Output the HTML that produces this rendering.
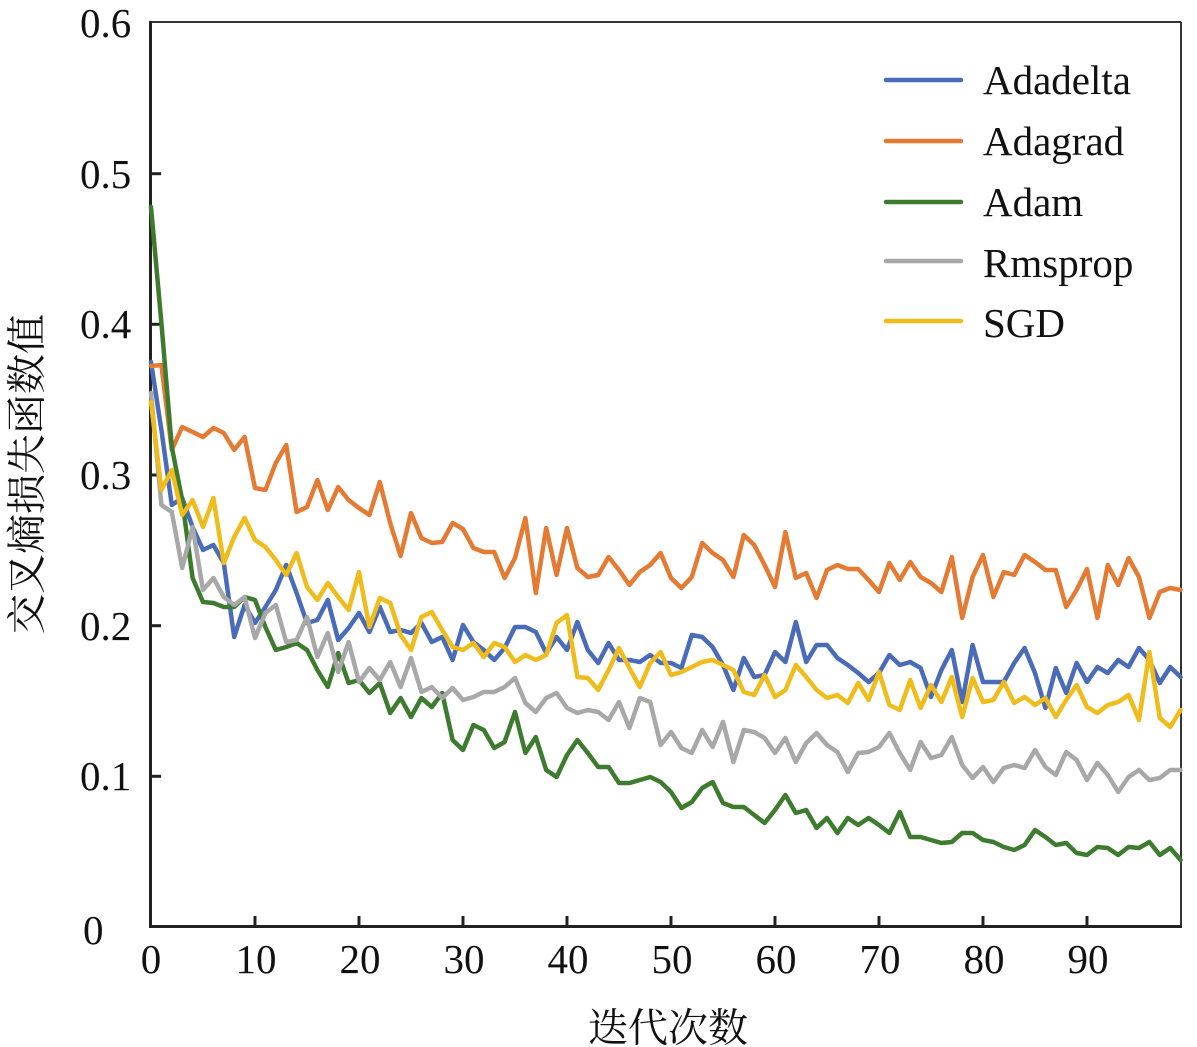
<!DOCTYPE html>
<html><head><meta charset="utf-8"><style>
html,body{margin:0;padding:0;background:#fff;}
svg{display:block;}
</style></head><body>
<svg width="1197" height="1047" viewBox="0 0 1197 1047" xmlns="http://www.w3.org/2000/svg">
<rect width="1197" height="1047" fill="#fff"/>
<!-- frame -->
<line x1="150" y1="22" x2="1181" y2="22" stroke="#333" stroke-width="2"/>
<line x1="1181" y1="22" x2="1181" y2="927" stroke="#333" stroke-width="2"/>
<line x1="150.5" y1="21" x2="150.5" y2="928" stroke="#222" stroke-width="3"/>
<line x1="149" y1="926.5" x2="1182" y2="926.5" stroke="#222" stroke-width="3"/>
<!-- y ticks -->
<g stroke="#222" stroke-width="3">
<line x1="151" y1="776.3" x2="161" y2="776.3"/>
<line x1="151" y1="625.7" x2="161" y2="625.7"/>
<line x1="151" y1="475" x2="161" y2="475"/>
<line x1="151" y1="324.3" x2="161" y2="324.3"/>
<line x1="151" y1="173.7" x2="161" y2="173.7"/>
</g>
<!-- x ticks -->
<g stroke="#222" stroke-width="3">
<line x1="255" y1="916" x2="255" y2="926"/>
<line x1="359" y1="916" x2="359" y2="926"/>
<line x1="463" y1="916" x2="463" y2="926"/>
<line x1="567" y1="916" x2="567" y2="926"/>
<line x1="671" y1="916" x2="671" y2="926"/>
<line x1="775" y1="916" x2="775" y2="926"/>
<line x1="879" y1="916" x2="879" y2="926"/>
<line x1="983" y1="916" x2="983" y2="926"/>
<line x1="1087" y1="916" x2="1087" y2="926"/>
</g>
<!-- y tick labels -->
<g font-family="'Liberation Serif', 'DejaVu Serif', serif" font-size="41" fill="#111">
<text x="80" y="37">0.6</text>
<text x="80" y="188">0.5</text>
<text x="80" y="338">0.4</text>
<text x="80" y="489">0.3</text>
<text x="80" y="640">0.2</text>
<text x="80" y="790">0.1</text>
<text x="83" y="944">0</text>
</g>
<!-- x tick labels -->
<g font-family="'Liberation Serif', 'DejaVu Serif', serif" font-size="41" fill="#111" text-anchor="middle">
<text x="151" y="973">0</text>
<text x="256" y="973">10</text>
<text x="360" y="973">20</text>
<text x="464" y="973">30</text>
<text x="568" y="973">40</text>
<text x="672" y="973">50</text>
<text x="776" y="973">60</text>
<text x="880" y="973">70</text>
<text x="984" y="973">80</text>
<text x="1088" y="973">90</text>
</g>
<!-- axis titles -->
<g font-family="'Noto Serif CJK SC', 'Noto Sans CJK SC', serif" font-size="40" fill="#111">
<text x="668" y="1025" text-anchor="middle" dominant-baseline="central">迭代次数</text>
<text transform="translate(24,474) rotate(-90)" x="0" y="0" text-anchor="middle" dominant-baseline="central">交叉熵损失函数值</text>
</g>
<!-- series -->
<g transform="translate(151,0) scale(10.4,1)" fill="none" stroke-width="4.5" stroke-linejoin="round" stroke-linecap="round">
<polyline vector-effect="non-scaling-stroke" stroke="#4a6cb8" points="0,362 1,430 2,505 3,498 4,527 5,550 6,545 7,563 8,637 9,605 10,623 11,607 12,590 13,565 14,593 15,623 16,620 17,600 18,640 19,628 20,613 21,632 22,607 23,632 24,630 25,633 26,623 27,642 28,637 29,660 30,625 31,642 32,650 33,660 34,648 35,627 36,627 37,632 38,653 39,637 40,650 41,622 42,650 43,663 44,643 45,660 46,660 47,662 48,655 49,663 50,663 51,668 52,635 53,637 54,647 55,665 56,690 57,658 58,677 59,675 60,652 61,662 62,622 63,662 64,645 65,645 66,658 67,665 68,673 69,682 70,673 71,655 72,665 73,662 74,668 75,697 76,670 77,650 78,702 79,645 80,682 81,682 82,682 83,663 84,648 85,673 86,708 87,668 88,693 89,663 90,682 91,667 92,673 93,660 94,667 95,648 96,660 97,683 98,667 99,677"/>
<polyline vector-effect="non-scaling-stroke" stroke="#e57a33" points="0,366 1,365 2,450 3,427 4,432 5,437 6,428 7,433 8,450 9,437 10,488 11,490 12,463 13,445 14,512 15,507 16,480 17,510 18,487 19,500 20,508 21,515 22,482 23,523 24,556 25,513 26,538 27,543 28,542 29,523 30,529 31,548 32,552 33,552 34,578 35,558 36,518 37,593 38,528 39,575 40,528 41,568 42,577 43,575 44,557 45,570 46,585 47,572 48,565 49,553 50,578 51,588 52,577 53,543 54,553 55,560 56,577 57,535 58,545 59,565 60,587 61,532 62,578 63,573 64,598 65,570 66,565 67,569 68,569 69,580 70,592 71,563 72,580 73,562 74,577 75,583 76,592 77,557 78,618 79,577 80,555 81,597 82,572 83,575 84,555 85,562 86,570 87,570 88,607 89,590 90,569 91,618 92,565 93,585 94,558 95,577 96,618 97,592 98,588 99,590"/>
<polyline vector-effect="non-scaling-stroke" stroke="#3d7b2e" points="0,207 1,323 2,447 3,500 4,578 5,602 6,603 7,607 8,607 9,597 10,600 11,627 12,650 13,647 14,643 15,650 16,670 17,687 18,653 19,683 20,680 21,693 22,683 23,713 24,698 25,717 26,698 27,707 28,693 29,740 30,750 31,725 32,730 33,748 34,742 35,712 36,753 37,737 38,770 39,777 40,755 41,740 42,753 43,767 44,767 45,783 46,783 47,780 48,777 49,782 50,792 51,808 52,802 53,788 54,782 55,803 56,807 57,807 58,815 59,823 60,810 61,795 62,813 63,810 64,828 65,818 66,833 67,818 68,825 69,818 70,825 71,833 72,812 73,837 74,837 75,840 76,843 77,842 78,833 79,833 80,840 81,842 82,847 83,850 84,845 85,830 86,837 87,845 88,843 89,853 90,855 91,847 92,848 93,855 94,847 95,848 96,842 97,855 98,848 99,860"/>
<polyline vector-effect="non-scaling-stroke" stroke="#a8a8a8" points="0,393 1,505 2,512 3,568 4,527 5,590 6,578 7,597 8,605 9,597 10,638 11,613 12,605 13,642 14,640 15,617 16,657 17,633 18,672 19,642 20,682 21,668 22,680 23,662 24,687 25,658 26,692 27,687 28,698 29,688 30,700 31,697 32,692 33,692 34,687 35,678 36,703 37,712 38,698 39,693 40,708 41,713 42,710 43,712 44,720 45,702 46,728 47,698 48,702 49,745 50,732 51,748 52,753 53,730 54,747 55,722 56,762 57,730 58,732 59,738 60,753 61,738 62,762 63,743 64,733 65,745 66,752 67,772 68,753 69,752 70,747 71,733 72,753 73,770 74,742 75,758 76,755 77,737 78,765 79,778 80,767 81,782 82,768 83,765 84,768 85,750 86,767 87,775 88,752 89,760 90,780 91,763 92,775 93,792 94,777 95,770 96,780 97,778 98,770 99,770"/>
<polyline vector-effect="non-scaling-stroke" stroke="#f0bc1c" points="0,402 1,490 2,470 3,515 4,500 5,527 6,498 7,563 8,537 9,518 10,540 11,547 12,560 13,575 14,553 15,587 16,600 17,583 18,597 19,610 20,572 21,627 22,598 23,603 24,635 25,650 26,617 27,612 28,630 29,647 30,650 31,643 32,657 33,643 34,647 35,662 36,655 37,660 38,655 39,623 40,615 41,677 42,678 43,690 44,670 45,648 46,668 47,687 48,663 49,652 50,675 51,672 52,667 53,662 54,660 55,665 56,670 57,692 58,695 59,675 60,697 61,690 62,665 63,677 64,690 65,698 66,695 67,703 68,683 69,700 70,672 71,705 72,710 73,680 74,708 75,685 76,702 77,677 78,717 79,678 80,702 81,700 82,682 83,703 84,697 85,705 86,698 87,717 88,700 89,685 90,707 91,713 92,705 93,702 94,695 95,720 96,652 97,718 98,727 99,710"/>
</g>
<!-- legend -->
<g stroke-width="4.5" stroke-linecap="round">
<line x1="886" y1="80" x2="961" y2="80" stroke="#4a6cb8"/>
<line x1="886" y1="141" x2="961" y2="141" stroke="#e57a33"/>
<line x1="886" y1="202" x2="961" y2="202" stroke="#3d7b2e"/>
<line x1="886" y1="261" x2="961" y2="261" stroke="#a8a8a8"/>
<line x1="886" y1="321" x2="961" y2="321" stroke="#f0bc1c"/>
</g>
<g font-family="'Liberation Serif', 'DejaVu Serif', serif" font-size="41" fill="#111">
<text x="983" y="94">Adadelta</text>
<text x="983" y="155">Adagrad</text>
<text x="983" y="216">Adam</text>
<text x="983" y="277">Rmsprop</text>
<text x="983" y="337">SGD</text>
</g>
</svg>
</body></html>
